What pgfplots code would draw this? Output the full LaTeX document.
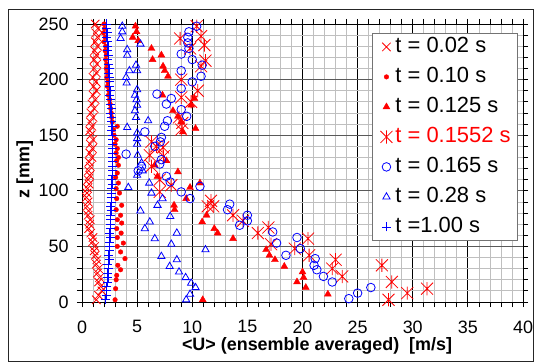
\documentclass[border=0pt]{standalone}
\usepackage{pgfplots}
\pgfplotsset{compat=1.18}
\usepackage{fontspec}
\setmainfont{Liberation Sans}
\definecolor{xred}{RGB}{255,0,0}
\definecolor{xblue}{RGB}{0,0,255}
\pgfdeclareplotmark{xast}{%
 \pgfpathmoveto{\pgfqpoint{-\pgfplotmarksize}{-\pgfplotmarksize}}%
 \pgfpathlineto{\pgfqpoint{\pgfplotmarksize}{\pgfplotmarksize}}%
 \pgfpathmoveto{\pgfqpoint{-\pgfplotmarksize}{\pgfplotmarksize}}%
 \pgfpathlineto{\pgfqpoint{\pgfplotmarksize}{-\pgfplotmarksize}}%
 \pgfpathmoveto{\pgfqpoint{0pt}{-1.1\pgfplotmarksize}}%
 \pgfpathlineto{\pgfqpoint{0pt}{1.1\pgfplotmarksize}}%
 \pgfusepathqstroke}
\pgfdeclareplotmark{xcross}{%
 \pgfpathmoveto{\pgfqpoint{-\pgfplotmarksize}{-\pgfplotmarksize}}%
 \pgfpathlineto{\pgfqpoint{\pgfplotmarksize}{\pgfplotmarksize}}%
 \pgfpathmoveto{\pgfqpoint{-\pgfplotmarksize}{\pgfplotmarksize}}%
 \pgfpathlineto{\pgfqpoint{\pgfplotmarksize}{-\pgfplotmarksize}}%
 \pgfusepathqstroke}
\pgfdeclareplotmark{xplus}{%
 \pgfpathmoveto{\pgfqpoint{-\pgfplotmarksize}{0pt}}%
 \pgfpathlineto{\pgfqpoint{\pgfplotmarksize}{0pt}}%
 \pgfpathmoveto{\pgfqpoint{0pt}{-\pgfplotmarksize}}%
 \pgfpathlineto{\pgfqpoint{0pt}{\pgfplotmarksize}}%
 \pgfusepathqstroke}

\pgfplotstableread{
x z
1.3 2
1.5 6
1.8 10
1.7 14
1.5 18
1.6 22
1.4 26
1.5 30
1.3 34
1.35 38
1.2 42
1.1 46
1.15 50
0.95 54
1.0 58
0.8 62
0.6 66
0.7 70
0.75 74
0.55 78
0.6 82
0.45 86
0.55 90
0.4 94
0.45 98
0.5 102
0.65 106
0.55 110
0.7 114
0.6 118
0.75 122
0.65 126
0.9 130
0.7 134
0.95 138
0.75 142
1.0 146
0.8 150
0.7 154
0.9 158
0.75 162
1.0 166
0.8 170
1.1 174
0.9 178
1.2 182
1.0 186
1.3 190
1.05 194
1.25 198
1.0 202
1.3 206
1.1 210
1.35 214
1.1 218
1.3 222
1.15 226
1.4 230
1.2 234
1.4 238
1.25 242
1.45 246
1.2 250
}\tA

\pgfplotstableread{
x z
2.0 250
2.05 246
1.95 242
2.1 238
2.0 234
2.15 230
2.1 226
2.2 222
2.15 218
2.25 214
2.2 210
2.3 206
2.25 202
2.35 198
2.3 194
2.45 190
2.4 186
2.5 182
2.55 178
2.6 174
2.65 170
2.7 166
2.75 162
3.2 158
2.85 155
2.9 150
3.1 146
3.0 142
3.2 138
3.1 134
3.3 130
3.15 127
3.3 123
3.2 116
3.05 112
3.3 107
3.1 102
3.4 98
3.15 93
3.6 87
3.1 83
3.5 78
3.2 74
3.6 71
3.15 66
3.55 62
3.2 58
3.75 53
3.2 50
3.5 45
3.9 39
3.25 33
3.5 29
3.15 24
3.1 20
3.05 12
3.0 2
}\tB

\pgfplotstableread{
x z
4.85 248
4.95 243
4.6 238
5.1 235
6.3 228
7.2 222
6.4 218
7.35 212
7.5 208
7.8 203
7.3 186
10.2 183
9.9 177
8.25 172
8.7 167
9.0 162
10.3 156
9.15 153
7.65 127
6.6 123
8.7 117
6.85 113
10.7 107
9.8 103
9.45 93
8.35 87
8.4 83
11.3 78
10.9 72
12.0 66
12.3 62
13.7 57
16.7 47
17.0 42
17.5 38
18.35 32
20.0 27
20.1 22
19.5 18
20.3 13
22.3 7
10.95 2
}\tC

\pgfplotstableread{
x z
10.4 248
8.9 237
10.8 239
11.1 231
9.8 228
11.2 217
10.8 212
9.0 200
10.5 190
9.0 184
9.9 180
8.8 166
9.1 161
9.0 155
6.3 144
6.75 140
7.35 139
6.15 132
7.4 131
6.3 122
7.05 110
8.1 105
7.05 99
11.7 91
11.4 86
11.9 86
13.7 78
14.6 73
16.9 67
15.95 62
17.15 52
20.5 57
19.3 48
20.6 42
23.0 38
22.7 30
23.6 23
27.2 33
28.1 18
27.8 2
29.5 8
31.3 12
}\tD

\pgfplotstableread{
x z
10.4 248
9.7 243
9.6 238
9.6 233
9.7 228
9.0 223
10.0 218
10.9 213
9.0 208
10.8 203
10.0 198
9.0 192
6.8 187
8.1 183
7.65 178
9.0 173
9.5 167
7.75 163
7.5 158
5.7 153
7.2 148
7.1 144
6.6 140
4.0 133
7.2 128
7.05 124
5.4 122
5.1 118
7.65 113
8.0 108
10.7 104
9.0 99
9.8 93
13.4 88
13.2 83
15.0 78
15.0 73
14.3 69
17.3 63
17.65 53
19.5 58
19.8 48
18.5 42
21.15 39
21.05 33
21.3 29
21.9 23
22.7 18
24.2 3
25.0 8
26.2 13
}\tE

\pgfplotstableread{
x z
3.65 248
3.65 243
3.5 237
5.3 232
4.1 227
4.1 222
4.9 213
5.0 208
4.3 208
4.0 202
4.05 197
5.0 191
4.8 186
4.95 182
5.0 177
4.8 172
4.9 166
6.0 163
4.1 157
5.0 152
5.0 147
5.0 142
5.05 132
5.4 125
5.5 118
5.0 114
6.1 107
4.2 103
6.3 98
7.3 93
6.85 87
5.3 82
8.0 77
6.15 72
5.7 66
8.6 62
6.6 57
8.1 52
11.2 47
7.2 41
8.6 38
7.95 32
8.8 27
9.4 22
9.9 17
10.3 13
9.8 7
9.45 2
}\tF

\pgfplotstableread{
x z
2.15 2
2.2 6
2.25 10
2.2 14
2.3 18
2.35 22
2.3 26
2.4 30
2.35 34
2.45 38
2.4 42
2.5 46
2.45 50
2.5 54
2.55 58
2.5 62
2.55 66
2.6 70
2.55 74
2.6 78
2.65 82
2.6 86
2.7 90
2.65 94
2.7 98
2.7 102
2.75 106
2.7 110
2.75 114
2.8 118
2.75 122
2.8 126
2.75 130
2.8 134
2.75 138
2.8 142
2.75 146
2.8 150
2.7 154
2.75 158
2.7 162
2.65 166
2.6 170
2.65 174
2.55 178
2.6 182
2.5 186
2.55 190
2.5 194
2.45 198
2.5 202
2.4 206
2.45 210
2.4 214
2.35 218
2.4 222
2.3 226
2.35 230
2.3 234
2.25 238
2.3 242
2.2 246
2.25 250
}\tG

\begin{document}
\begin{tikzpicture}
\path[use as bounding box] (0,0) rectangle (534bp,362bp);
\draw[line width=1bp, black!85] (8bp,0.5bp) rectangle (533.5bp,352bp);
\begin{axis}[
 at={(82bp,60bp)}, anchor=south west,
 scale only axis, width=441bp, height=278bp,
 xmin=0, xmax=40, ymin=0, ymax=250,
 xtick={0,5,...,40}, ytick={0,50,...,250},
 minor x tick num=4, minor y tick num=4,
 grid=both,
 major x grid style={black, line width=0.8bp},
 major y grid style={black!65, line width=0.8bp},
 minor grid style={black!25, line width=0.8bp},
 axis line style={black, line width=0.8bp},
 tick align=outside, major tick length=5bp, minor tick length=5bp,
 tick style={black, line width=0.8bp},
 ticklabel style={font=\fontsize{18}{20}\selectfont},
 /pgf/number format/assume math mode=true,
 xticklabel style={yshift=-10bp},
 yticklabel style={xshift=-5bp},
 xlabel={<U> (ensemble averaged)~~[m/s]},
 ylabel={z [mm]},
 xlabel style={font=\bfseries\fontsize{18}{20}\selectfont, at={(axis description cs:0.533,-0.158)}, anchor=center},
 ylabel style={font=\bfseries\fontsize{18}{20}\selectfont, at={(axis description cs:-0.13,0.478)}, anchor=center},
 legend style={at={(axis description cs:0.9887,0.9676)}, anchor=north east, draw=black!55, line width=0.8bp, fill=white,
   font=\fontsize{22}{24}\selectfont, nodes={inner sep=2bp, text height=16bp, text depth=5bp}, row sep=5bp, inner xsep=5bp, inner ysep=1bp},
 legend cell align=left,
 legend image code/.code={\path[draw=none,fill=none] (0bp,0bp) rectangle (16bp,0.1bp);\draw[mark repeat=2,mark phase=2,#1] plot coordinates {(2bp,0bp)(9bp,0bp)(16bp,0bp)};},
 clip=false,
]
\addplot[only marks, mark=xcross, mark size=4.2bp, xred, line width=0.8bp] table[x=x,y=z] {\tA};
\addlegendentry{t = 0.02 s}
\addplot[only marks, mark=*, mark size=2.3bp, xred, line width=0.4bp] table[x=x,y=z] {\tB};
\addlegendentry{t = 0.10 s}
\addplot[only marks, mark=triangle*, mark size=4bp, xred, fill=xred, line width=0.4bp] table[x=x,y=z] {\tC};
\addlegendentry{t = 0.125 s}
\addplot[only marks, mark=xast, mark size=6bp, xred, line width=0.8bp] table[x=x,y=z] {\tD};
\addlegendentry{\textcolor{xred}{t = 0.1552 s}}
\addplot[only marks, mark=o, mark size=4.3bp, xblue, line width=0.8bp] table[x=x,y=z] {\tE};
\addlegendentry{t = 0.165 s}
\addplot[only marks, mark=triangle, mark size=4.2bp, xblue, line width=0.8bp] table[x=x,y=z] {\tF};
\addlegendentry{t = 0.28 s}
\addplot[only marks, mark=xplus, mark size=4.5bp, xblue, line width=0.8bp] table[x=x,y=z] {\tG};
\addlegendentry{t =1.00 s}
\end{axis}
\end{tikzpicture}
\end{document}
